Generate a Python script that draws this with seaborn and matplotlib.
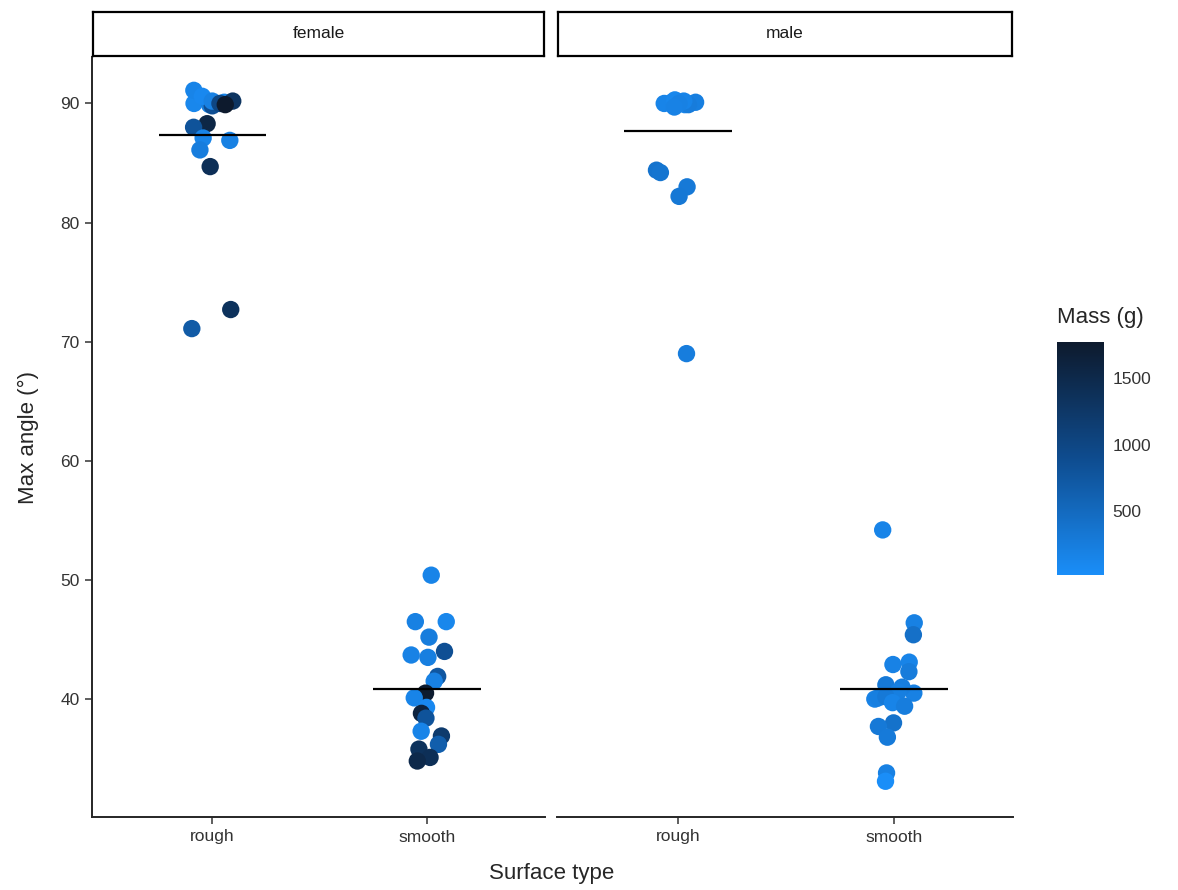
import numpy as np
import pandas as pd
import matplotlib
matplotlib.use("Agg")
import matplotlib.pyplot as plt
import seaborn as sns
from matplotlib.colors import LinearSegmentedColormap, Normalize

# values
# (points sitting at ~90 are largely hidden under the others, listed first so they draw underneath)
female_rough_angle = [90.0, 90.1, 89.9, 90.0, 90.2, 90.0, 89.8,
                      91.1, 90.6, 90.2, 90.0, 89.9, 88.3, 88.0, 87.1, 86.9, 86.1, 84.7, 72.7, 71.1]
female_rough_mass = [120, 180, 220, 250, 1300, 1500, 850,
                     150, 100, 200, 1000, 1770, 1550, 800, 150, 200, 250, 1400, 1350, 700]

female_smooth_angle = [50.4, 46.5, 46.5, 45.2, 44.0, 43.7, 43.5, 41.9, 41.5, 40.5,
                       40.1, 39.3, 38.8, 38.4, 37.3, 36.9, 36.2, 35.8, 35.1, 34.8]
female_smooth_mass = [150, 120, 200, 250, 850, 180, 220, 750, 200, 1750,
                      150, 100, 1600, 800, 150, 1200, 650, 1350, 1400, 1500]

male_rough_angle = [90.0, 90.1, 89.9, 90.0, 90.2, 90.0, 89.8, 90.1, 90.0, 89.9, 90.0,
                    90.3, 90.2, 90.0, 89.7, 84.4, 84.2, 83.0, 82.2, 69.0]
male_rough_mass = [150, 200, 120, 250, 180, 300, 100, 220, 160, 260, 140,
                   120, 150, 200, 180, 380, 350, 300, 320, 250]

male_smooth_angle = [40.5, 41.0, 40.0, 41.2, 40.6,
                     54.2, 46.4, 45.4, 43.1, 42.9, 42.3, 40.1, 40.2, 39.7, 39.4,
                     38.0, 37.7, 36.8, 33.8, 33.1]
male_smooth_mass = [200, 250, 180, 300, 220,
                    150, 200, 420, 160, 180, 260, 220, 300, 150, 250,
                    400, 300, 280, 200, 20]

sexes = ["female", "male"]
surfaces = ["rough", "smooth"]

df = pd.concat([
    pd.DataFrame({"sex": "female", "surface": "rough", "angle": female_rough_angle, "mass": female_rough_mass}),
    pd.DataFrame({"sex": "female", "surface": "smooth", "angle": female_smooth_angle, "mass": female_smooth_mass}),
    pd.DataFrame({"sex": "male", "surface": "rough", "angle": male_rough_angle, "mass": male_rough_mass}),
    pd.DataFrame({"sex": "male", "surface": "smooth", "angle": male_smooth_angle, "mass": male_smooth_mass}),
], ignore_index=True)

sns.set_style("white")
plt.rcParams["font.family"] = ["Liberation Sans", "DejaVu Sans"]

cmap = LinearSegmentedColormap.from_list("mass", ["#1a8ef8", "#0e4c8f", "#0d1a2d"])
norm = Normalize(df["mass"].min(), df["mass"].max())

W, H = 1178, 890
fig = plt.figure(figsize=(W / 100, H / 100), dpi=100)


def px_axes(x0, y0, x1, y1):
    # pixel box (top-left origin) -> figure fraction axes
    return fig.add_axes([x0 / W, 1 - y1 / H, (x1 - x0) / W, (y1 - y0) / H])


panels = {"female": (92, 545), "male": (557, 1013)}
np.random.seed(7)

for sex, (x0, x1) in panels.items():
    ax = px_axes(x0, 57, x1, 817)
    sub = df[df["sex"] == sex]
    sns.stripplot(data=sub, x="surface", y="angle", hue="mass", order=surfaces,
                  palette=cmap, hue_norm=norm, jitter=0.1, size=12.5,
                  linewidth=0, legend=False, ax=ax, zorder=3)
    means = sub.groupby("surface")["angle"].mean()
    for i, s in enumerate(surfaces):
        ax.hlines(means[s], i - 0.25, i + 0.25, color="black", linewidth=1.6, zorder=4)
    ax.set_xlim(-0.56, 1.55)
    ax.set_ylim(30.1, 93.9)
    ax.set_yticks([40, 50, 60, 70, 80, 90])
    ax.set_xlabel("")
    ax.set_ylabel("")
    for sp in ["top", "right"]:
        ax.spines[sp].set_visible(False)
    ax.spines["bottom"].set_linewidth(1.4)
    ax.spines["left"].set_linewidth(1.4)
    ax.tick_params(axis="both", length=5, width=1.1, color="#333333",
                   labelsize=12.5, labelcolor="#333333", pad=4, bottom=True, left=True)
    if sex == "male":
        ax.spines["left"].set_visible(False)
        ax.tick_params(axis="y", left=False, labelleft=False)

    # facet strip
    st = px_axes(x0 + 1, 12, x1 - 1, 56)
    st.set_xticks([])
    st.set_yticks([])
    for sp in st.spines.values():
        sp.set_linewidth(1.6)
        sp.set_color("black")
    st.text(0.5, 0.5, sex, ha="center", va="center", fontsize=12.5, color="#1a1a1a",
            transform=st.transAxes)

fig.text(28 / W, 1 - 437 / H, "Max angle (°)", rotation=90, ha="center", va="center", fontsize=16)
fig.text(552 / W, 1 - 873 / H, "Surface type", ha="center", va="center", fontsize=16)

# colourbar
cax = px_axes(1057, 342, 1104, 575)
cb = fig.colorbar(plt.cm.ScalarMappable(norm=norm, cmap=cmap), cax=cax)
cb.set_ticks([500, 1000, 1500])
cb.outline.set_visible(False)
cax.tick_params(direction="in", color="white", length=5, width=1, left=True, right=True,
                labelsize=12.5, labelcolor="#333333", pad=6)
fig.text(1057 / W, 1 - 318 / H, "Mass (g)", ha="left", va="center", fontsize=16)

fig.savefig("out.png", dpi=100)
